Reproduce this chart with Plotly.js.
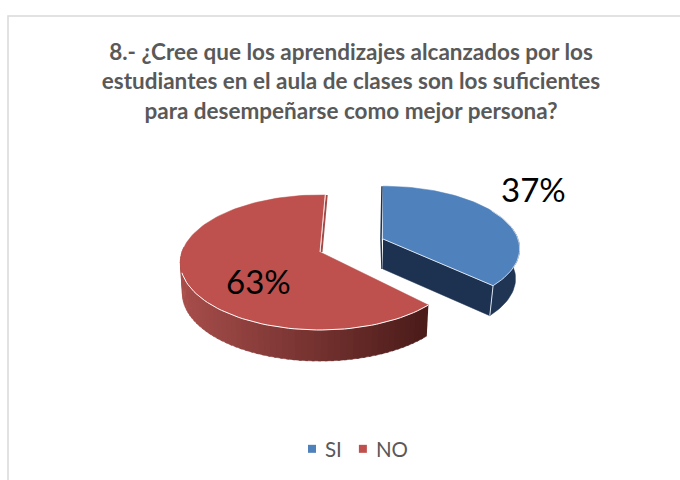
<!DOCTYPE html>
<html><head><meta charset="utf-8">
<script src="https://cdn.plot.ly/plotly-3.0.1.min.js"></script>
<style>html,body{margin:0;padding:0;background:#fff;overflow:hidden}</style></head>
<body><div id="chart" style="width:680px;height:480px"></div>
<script>
const categories = ['SI', 'NO'];
const values = [37, 63];
const titleLines = ['8.- ¿Cree que los aprendizajes alcanzados por los',
  'estudiantes en el aula de clases son los suficientes',
  'para desempeñarse como mejor persona?'];

const total = values.reduce((a, b) => a + b, 0);
const sweepEnd = 360 * values[0] / total;
const rad = d => d * Math.PI / 180;

const blue = {ax: 383, ay: 239, R: 135, Ry: 61, k: 0.155, rot: 0, depth: 30, sx: 0.97};
const red = {ax: 320, ay: 252, R: 138, Ry: 65.9, k: 0.155, rot: 2.5, depth: 31, sx: 0.985};

function pt(s, deg, low) {
  const t = rad(deg + s.rot), u = Math.sin(t), v = Math.cos(t), w = 1 + s.k * v;
  const sx = low ? s.sx : 1;
  return [s.ax + sx * s.R * u / w, s.ay - s.Ry * v / w + (low ? s.depth : 0)];
}
function arc(s, a, b, low) {
  const out = [], n = Math.max(2, Math.ceil(Math.abs(b - a) / 2));
  for (let i = 0; i <= n; i++) out.push(pt(s, a + (b - a) * i / n, low));
  return out;
}
function poly(points, fill, line, width) {
  return {x: points.map(p => p[0]), y: points.map(p => p[1]), type: 'scatter', mode: 'lines',
    fill: 'toself', fillcolor: fill, line: {color: line || fill, width: width === undefined ? 0.5 : width},
    hoverinfo: 'skip', showlegend: false};
}
function stroke(points, color, width) {
  return {x: points.map(p => p[0]), y: points.map(p => p[1]), type: 'scatter', mode: 'lines',
    line: {color: color, width: width}, hoverinfo: 'skip', showlegend: false};
}
const mix = (a, b, f) => 'rgb(' + a.map((c, i) => Math.round(c + (b[i] - c) * f)).join(',') + ')';

const traces = [];
// NO slice
const redA = sweepEnd, redB = 360;
traces.push(stroke([pt(red, redB), [red.ax, red.ay]].map(p => [p[0] + 1.5, p[1]]), '#A34A47', 2));
const wallEnd = 272, strips = 60;
for (let i = 0; i < strips; i++) {
  const a = redA + (wallEnd - redA) * i / strips, b = redA + (wallEnd - redA) * (i + 1.4) / strips;
  const f = (pt(red, a)[0] - 180) / 245;
  traces.push(poly([...arc(red, a, Math.min(b, wallEnd)), ...arc(red, Math.min(b, wallEnd), a, true)],
    mix([168, 78, 75], [76, 28, 26], Math.max(0, Math.min(1, f)))));
}
traces.push(poly([[red.ax, red.ay], ...arc(red, redA, redB)], '#BE504D', '#BE504D', 0.5));
traces.push(stroke(arc(red, redA, 250), '#FFFFFF', 1));
traces.push(stroke([pt(red, redB), [red.ax, red.ay]], '#F3DEDD', 1));
// SI slice
traces.push(stroke([pt(blue, 0), [blue.ax - 1, blue.ay], [blue.ax, blue.ay + blue.depth]].map(p => [p[0] - 1, p[1]]), '#1D3150', 1.5));
traces.push(poly([...arc(blue, sweepEnd, 80), ...arc(blue, 80, sweepEnd, true)], '#1F3553'));
traces.push(poly([[blue.ax, blue.ay], pt(blue, sweepEnd), pt(blue, sweepEnd, true), [blue.ax, blue.ay + blue.depth]], '#1D3150'));
traces.push(poly([[blue.ax, blue.ay], ...arc(blue, 0, sweepEnd)], '#4F81BD', '#4F81BD', 0.5));
traces.push(stroke([[blue.ax, blue.ay], pt(blue, sweepEnd), pt(blue, sweepEnd, true)], '#DCE6F1', 1));
traces.push(stroke(arc(blue, sweepEnd, 60), '#DCE6F1', 0.8));
// legend entries
[['#4F81BD', 0], ['#C0504D', 1]].forEach(([color, i]) => traces.push({
  x: [null], y: [null], type: 'scatter', mode: 'markers', name: categories[i],
  marker: {symbol: 'square', size: 8, color: color}, hoverinfo: 'skip', showlegend: true}));

const fmt = v => Math.round(v / total * 100) + '%';
const layout = {
  width: 680, height: 480, margin: {l: 0, r: 0, t: 0, b: 0},
  paper_bgcolor: '#fff', plot_bgcolor: '#fff',
  font: {family: 'Lato, sans-serif', color: '#595959'},
  title: {text: titleLines.join('<br>'), font: {family: 'Lato, sans-serif', size: 22.5, weight: 700, color: '#595959'},
    x: 351 / 680, xanchor: 'center', y: 1 - 60 / 480, yanchor: 'top'},
  xaxis: {range: [0, 680], visible: false, fixedrange: true},
  yaxis: {range: [480, 0], visible: false, fixedrange: true},
  shapes: [{type: 'rect', xref: 'x', yref: 'y', x0: 8, y0: 16, x1: 720, y1: 520, line: {color: '#D9D9D9', width: 1.5}, layer: 'below'}],
  annotations: [
    {x: 533, y: 189, xref: 'x', yref: 'y', text: fmt(values[0]), showarrow: false, font: {family: 'Lato, sans-serif', size: 33, color: '#000'}},
    {x: 258, y: 281, xref: 'x', yref: 'y', text: fmt(values[1]), showarrow: false, font: {family: 'Lato, sans-serif', size: 33, color: '#000'}}
  ],
  showlegend: true,
  legend: {orientation: 'h', x: 292 / 680, xanchor: 'left', y: 1 - 449 / 480, yanchor: 'middle',
    indentation: -7, font: {family: 'Lato, sans-serif', size: 20.5, color: '#595959'}, bgcolor: 'rgba(0,0,0,0)'}
};
Plotly.newPlot('chart', traces, layout, {displayModeBar: false, staticPlot: true}).then(() => {
  // Tighten the gap between legend swatch and label, as in the reference.
  const shifts = [{mark: 7, text: 0}, {mark: 3, text: -4}];
  document.querySelectorAll('.legend .traces').forEach((g, i) => {
    const s = shifts[i];
    if (!s) return;
    const sym = g.querySelector('.legendsymbols');
    if (sym) sym.setAttribute('transform', 'translate(' + s.mark + ',0)');
    const txt = g.querySelector('.legendtext');
    if (txt) txt.setAttribute('x', parseFloat(txt.getAttribute('x') || 0) + s.text);
  });
});
</script></body></html>
